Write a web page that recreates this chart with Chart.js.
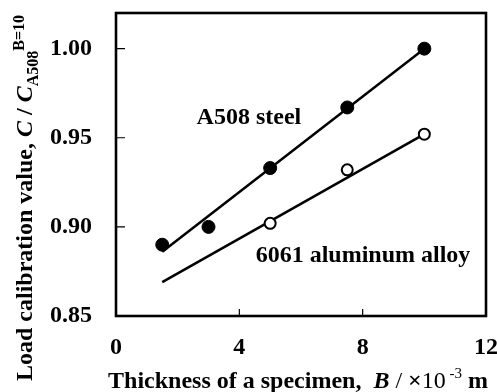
<!DOCTYPE html>
<html><head><meta charset="utf-8">
<script src="https://cdn.jsdelivr.net/npm/chart.js@4"></script>
<style>html,body{margin:0;padding:0;background:#fff}#wrap{width:497px;height:392px;position:relative}</style>
</head><body><div id="wrap"><canvas id="c" width="497" height="392"></canvas></div>
<script>
const xTicks = [0, 4, 8, 12];
const yTicks = [0.85, 0.90, 0.95, 1.00];
const steelX = [1.5, 3.0, 5.0, 7.5, 10.0];
const steelY = [0.890, 0.900, 0.933, 0.967, 1.000];
const alX = [5.0, 7.5, 10.0];
const alY = [0.902, 0.932, 0.952];
const steelFitX = [1.5, 10.0];
const steelFitY = [0.886, 1.000];
const alFitX = [1.5, 10.0];
const alFitY = [0.869, 0.952];
const seriesLabels = ['A508 steel', '6061 aluminum alloy'];

const FF = '"Liberation Serif", "Times New Roman", serif';
const pts = (xs, ys) => xs.map((x, i) => ({x: x, y: ys[i]}));

function drawRuns(ctx, runs, cx, cy, rot) {
  ctx.save();
  ctx.translate(cx, cy);
  ctx.rotate(rot);
  let total = 0;
  runs.forEach(r => { ctx.font = r.style + ' ' + r.size + 'px ' + FF; r.w = ctx.measureText(r.text).width; total += r.w; });
  let x = -total / 2;
  ctx.fillStyle = '#000';
  ctx.textBaseline = 'alphabetic';
  ctx.textAlign = 'left';
  runs.forEach(r => { ctx.font = r.style + ' ' + r.size + 'px ' + FF; ctx.fillText(r.text, x, r.dy || 0); x += r.w; });
  ctx.restore();
}

const framePlugin = {
  id: 'frame',
  afterDraw(chart) {
    const ctx = chart.ctx, a = chart.chartArea;
    const xs = chart.scales.x, ys = chart.scales.y;
    ctx.save();
    ctx.strokeStyle = '#000';
    ctx.lineWidth = 1.2;
    ctx.beginPath();
    yTicks.forEach(v => { const p = ys.getPixelForValue(v); ctx.moveTo(a.left, p); ctx.lineTo(a.left + 9, p); });
    xTicks.forEach(v => { const p = xs.getPixelForValue(v); ctx.moveTo(p, a.bottom); ctx.lineTo(p, a.bottom - 7); });
    ctx.stroke();
    ctx.lineWidth = 2.6;
    ctx.strokeRect(a.left, a.top, a.right - a.left, a.bottom - a.top);
    ctx.fillStyle = '#000';
    ctx.font = 'bold 24px ' + FF;
    ctx.textAlign = 'center';
    ctx.textBaseline = 'middle';
    ctx.fillText(seriesLabels[0], xs.getPixelForValue(4.31), ys.getPixelForValue(0.9614));
    ctx.fillText(seriesLabels[1], xs.getPixelForValue(8.01), ys.getPixelForValue(0.8835));
    ctx.restore();
    drawRuns(ctx, [
      {text: 'Thickness of a specimen,  ', style: 'bold', size: 24},
      {text: 'B', style: 'italic bold', size: 24},
      {text: ' / ', style: 'normal', size: 24},
      {text: '\u00d7', style: 'bold', size: 24},
      {text: '10', style: 'normal', size: 24},
      {text: ' -3', style: 'normal', size: 15, dy: -10},
      {text: ' m', style: 'bold', size: 24}
    ], 298, 388, 0);
    drawRuns(ctx, [
      {text: 'Load calibration value, ', style: 'bold', size: 24},
      {text: 'C', style: 'italic bold', size: 24},
      {text: ' / ', style: 'bold', size: 24},
      {text: 'C', style: 'italic bold', size: 24},
      {text: 'A508', style: 'bold', size: 16, dy: 6},
      {text: 'B=10', style: 'bold', size: 16, dy: -8}
    ], 32, 198, -Math.PI / 2);
  }
};

new Chart(document.getElementById('c'), {
  type: 'scatter',
  data: {
    datasets: [
      {label: 'A508 fit', data: pts(steelFitX, steelFitY), showLine: true, borderColor: '#000', borderWidth: 2.5, pointRadius: 0, order: 3},
      {label: '6061 fit', data: pts(alFitX, alFitY), showLine: true, borderColor: '#000', borderWidth: 2.5, pointRadius: 0, order: 4},
      {label: seriesLabels[0], data: pts(steelX, steelY), pointRadius: 6.5, pointBackgroundColor: '#000', pointBorderColor: '#000', pointBorderWidth: 1, order: 1},
      {label: seriesLabels[1], data: pts(alX, alY), pointRadius: 5.5, pointBackgroundColor: '#fff', pointBorderColor: '#000', pointBorderWidth: 2, order: 2}
    ]
  },
  options: {
    responsive: false,
    animation: false,
    devicePixelRatio: 1,
    layout: {padding: {left: 0, top: 13, right: 11, bottom: 0}},
    plugins: {legend: {display: false}, tooltip: {enabled: false}},
    scales: {
      x: {
        type: 'linear', min: 0, max: 12,
        afterBuildTicks: s => { s.ticks = xTicks.map(v => ({value: v})); },
        afterFit: s => { s.height = 76; s.paddingLeft = 0; s.paddingRight = 0; s.paddingTop = 0; s.paddingBottom = 0; },
        grid: {display: false, drawTicks: false},
        border: {display: false},
        ticks: {color: '#000', font: {family: FF, size: 24, weight: 'bold'}, padding: 17, callback: v => String(v), maxRotation: 0}
      },
      y: {
        type: 'linear', min: 0.85, max: 1.02,
        afterBuildTicks: s => { s.ticks = yTicks.map(v => ({value: v})); },
        afterFit: s => { s.width = 116; s.paddingLeft = 0; s.paddingRight = 0; s.paddingTop = 0; s.paddingBottom = 0; },
        grid: {display: false, drawTicks: false},
        border: {display: false},
        ticks: {color: '#000', font: {family: FF, size: 24, weight: 'bold'}, padding: 24, callback: v => Number(v).toFixed(2)}
      }
    }
  },
  plugins: [framePlugin]
});
</script></body></html>
